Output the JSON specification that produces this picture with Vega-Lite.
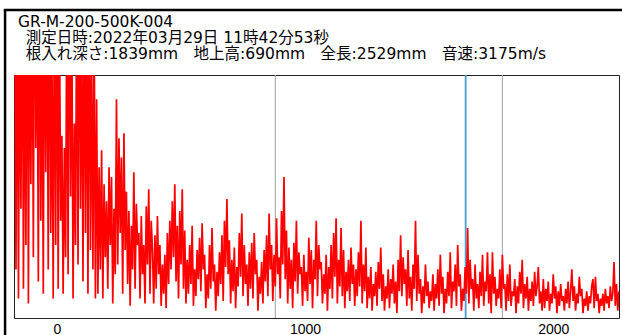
{
  "$schema": "https://vega.github.io/schema/vega-lite/v6.json",
  "width": 605,
  "height": 243,
  "autosize": "none",
  "padding": {"left": 14, "top": 75, "right": 3, "bottom": 17},
  "background": "white",
  "config": {"view": {"stroke": "#222222", "strokeWidth": 1}},
  "title": {
    "text": ["GR-M-200-500K-004", "\u200b\u2002測定日時:2022年03月29日 11時42分53秒", "\u200b\u2002根入れ深さ:1839mm\u2002\u2002地上高:690mm\u2002\u2002全長:2529mm\u2002\u2002音速:3175m/s"],
    "anchor": "start",
    "frame": "group",
    "offset": -54,
    "dx": 4,
    "fontSize": 15.5,
    "lineHeight": 16,
    "font": "DejaVu Sans, Noto Sans CJK JP",
    "fontWeight": "normal",
    "color": "#000000"
  },
  "layer": [
    {
      "data": {"values": [{"pos": 880}, {"pos": 1795}]},
      "mark": {"type": "rule", "color": "#a0a0a0", "strokeWidth": 1},
      "encoding": {
        "x": {"field": "pos", "type": "quantitative", "scale": {"domain": [-173, 2265], "nice": false, "zero": false}}
      }
    },
    {
      "data": {"values": [{"pos": 1647}]},
      "mark": {"type": "rule", "color": "#4a9fd0", "strokeWidth": 1.8},
      "encoding": {
        "x": {"field": "pos", "type": "quantitative"}
      }
    },
    {
      "data": {"values": [
{"x":-170,"y":140},{"x":-165,"y":20},{"x":-160,"y":150},{"x":-155,"y":8},{"x":-150,"y":130},{"x":-145,"y":45},{"x":-140,"y":160},{"x":-135,"y":12},{"x":-130,"y":120},{"x":-125,"y":30},{"x":-120,"y":170},{"x":-115,"y":6},{"x":-110,"y":135},{"x":-105,"y":55},{"x":-100,"y":150},{"x":-95,"y":25},{"x":-90,"y":180},{"x":-85,"y":70},{"x":-80,"y":140},{"x":-75,"y":15},{"x":-70,"y":165},{"x":-65,"y":40},{"x":-60,"y":125},{"x":-55,"y":10},{"x":-50,"y":155},{"x":-45,"y":60},{"x":-40,"y":145},{"x":-35,"y":20},{"x":-30,"y":170},{"x":-25,"y":35},{"x":-20,"y":110},{"x":-15,"y":8},{"x":-10,"y":150},{"x":-5,"y":30},
{"x":0,"y":160},{"x":5,"y":12},{"x":10,"y":130},{"x":15,"y":40},{"x":20,"y":75},{"x":25,"y":10},{"x":30,"y":70},{"x":35,"y":25},{"x":40,"y":140},{"x":45,"y":18},{"x":50,"y":175},{"x":55,"y":50},{"x":60,"y":125},{"x":65,"y":8},{"x":70,"y":80},{"x":75,"y":30},{"x":80,"y":150},{"x":85,"y":22},{"x":90,"y":165},{"x":95,"y":45},{"x":100,"y":120},{"x":105,"y":15},{"x":110,"y":145},{"x":115,"y":35},{"x":120,"y":130},{"x":125,"y":10},{"x":130,"y":155},{"x":135,"y":28},{"x":140,"y":110},{"x":145,"y":20},{"x":150,"y":125},{"x":155,"y":8},{"x":160,"y":90},
{"x":165,"y":10},{"x":170,"y":62},{"x":175,"y":20},{"x":180,"y":69},{"x":185,"y":8},{"x":190,"y":55},{"x":195,"y":25},{"x":200,"y":48},{"x":205,"y":12},{"x":210,"y":62},{"x":215,"y":30},{"x":220,"y":58},{"x":225,"y":6},{"x":230,"y":45},{"x":235,"y":18},{"x":240,"y":90},{"x":245,"y":22},{"x":250,"y":74},{"x":255,"y":35},{"x":260,"y":66},{"x":265,"y":10},{"x":270,"y":76},{"x":275,"y":28},{"x":280,"y":52},{"x":285,"y":14},{"x":290,"y":44},{"x":295,"y":5},{"x":300,"y":38},{"x":305,"y":20},{"x":310,"y":60},{"x":315,"y":12},{"x":320,"y":47},{"x":325,"y":30},{"x":330,"y":35},{"x":335,"y":8},{"x":340,"y":42},{"x":345,"y":18},{"x":350,"y":30},{"x":355,"y":6},{"x":360,"y":46},{"x":365,"y":22},{"x":370,"y":53},{"x":375,"y":10},{"x":380,"y":40},
{"x":385,"y":28},{"x":390,"y":6},{"x":395,"y":34},{"x":400,"y":12},{"x":405,"y":42},{"x":410,"y":18},{"x":415,"y":30},{"x":420,"y":5},{"x":425,"y":22},{"x":430,"y":10},{"x":435,"y":26},{"x":440,"y":4},{"x":445,"y":35},{"x":450,"y":14},{"x":455,"y":40},{"x":460,"y":20},{"x":465,"y":48},{"x":470,"y":25},{"x":475,"y":55},{"x":480,"y":15},{"x":485,"y":38},{"x":490,"y":8},{"x":495,"y":44},{"x":500,"y":22},{"x":505,"y":53},{"x":510,"y":12},{"x":515,"y":36},{"x":520,"y":6},{"x":525,"y":24},{"x":530,"y":10},{"x":535,"y":30},{"x":540,"y":14},{"x":545,"y":38},{"x":550,"y":5},{"x":555,"y":20},{"x":560,"y":9},{"x":565,"y":28},{"x":570,"y":16},{"x":575,"y":33},{"x":580,"y":11},{"x":585,"y":39},{"x":590,"y":20},{"x":595,"y":26},{"x":600,"y":4},{"x":605,"y":18},{"x":610,"y":8},{"x":615,"y":30},{"x":620,"y":12},{"x":625,"y":37},{"x":630,"y":15},{"x":635,"y":22},{"x":640,"y":3},{"x":645,"y":19},{"x":650,"y":9},{"x":655,"y":27},{"x":660,"y":14},{"x":665,"y":34},{"x":670,"y":7},{"x":675,"y":40},{"x":680,"y":21},{"x":685,"y":49},{"x":690,"y":18},{"x":695,"y":32},{"x":700,"y":6},{"x":705,"y":24},{"x":710,"y":11},{"x":715,"y":29},{"x":720,"y":4},{"x":725,"y":21},{"x":730,"y":13},{"x":735,"y":35},{"x":740,"y":17},{"x":745,"y":43},{"x":750,"y":9},{"x":755,"y":30},{"x":760,"y":14},{"x":765,"y":22},{"x":770,"y":5},{"x":775,"y":27},{"x":780,"y":12},{"x":785,"y":31},{"x":790,"y":8},{"x":795,"y":35},{"x":800,"y":18},{"x":805,"y":24},{"x":810,"y":3},{"x":815,"y":17},{"x":820,"y":10},{"x":825,"y":23},{"x":830,"y":6},{"x":835,"y":28},{"x":840,"y":15},{"x":845,"y":34},{"x":850,"y":9},{"x":855,"y":43},{"x":860,"y":20},{"x":865,"y":30},{"x":870,"y":7},{"x":875,"y":26},{"x":880,"y":13},{"x":885,"y":41},{"x":890,"y":18},{"x":895,"y":25},{"x":900,"y":8},{"x":905,"y":44},{"x":910,"y":22},{"x":915,"y":58},{"x":920,"y":16},{"x":925,"y":36},{"x":930,"y":6},{"x":935,"y":29},{"x":940,"y":12},{"x":945,"y":24},{"x":950,"y":4},{"x":955,"y":31},{"x":960,"y":15},{"x":965,"y":40},{"x":970,"y":10},{"x":975,"y":27},{"x":980,"y":18},{"x":985,"y":21},{"x":990,"y":5},{"x":995,"y":26},
{"x":1000,"y":11},{"x":1005,"y":19},{"x":1010,"y":7},{"x":1015,"y":33},{"x":1020,"y":14},{"x":1025,"y":28},{"x":1030,"y":4},{"x":1035,"y":24},{"x":1040,"y":16},{"x":1045,"y":40},{"x":1050,"y":9},{"x":1055,"y":30},{"x":1060,"y":20},{"x":1065,"y":23},{"x":1070,"y":6},{"x":1075,"y":18},{"x":1080,"y":10},{"x":1085,"y":26},{"x":1090,"y":3},{"x":1095,"y":21},{"x":1100,"y":12},{"x":1105,"y":30},{"x":1110,"y":8},{"x":1115,"y":35},{"x":1120,"y":17},{"x":1125,"y":41},{"x":1130,"y":6},{"x":1135,"y":24},{"x":1140,"y":13},{"x":1145,"y":37},{"x":1150,"y":9},{"x":1155,"y":28},{"x":1160,"y":4},{"x":1165,"y":19},{"x":1170,"y":11},{"x":1175,"y":24},{"x":1180,"y":7},{"x":1185,"y":29},{"x":1190,"y":14},{"x":1195,"y":22},{"x":1200,"y":5},
{"x":1205,"y":20},{"x":1210,"y":9},{"x":1215,"y":27},{"x":1220,"y":13},{"x":1225,"y":40},{"x":1230,"y":6},{"x":1235,"y":22},{"x":1240,"y":11},{"x":1245,"y":29},{"x":1250,"y":4},{"x":1255,"y":17},{"x":1260,"y":8},{"x":1265,"y":21},{"x":1270,"y":3},{"x":1275,"y":14},{"x":1280,"y":9},{"x":1285,"y":19},{"x":1290,"y":5},{"x":1295,"y":23},{"x":1300,"y":12},{"x":1305,"y":29},{"x":1310,"y":7},{"x":1315,"y":18},{"x":1320,"y":3},{"x":1325,"y":13},{"x":1330,"y":8},{"x":1335,"y":20},{"x":1340,"y":4},{"x":1345,"y":16},{"x":1350,"y":10},{"x":1355,"y":22},{"x":1360,"y":6},{"x":1365,"y":15},{"x":1370,"y":2},{"x":1375,"y":24},{"x":1380,"y":11},{"x":1385,"y":34},{"x":1390,"y":9},{"x":1395,"y":25},{"x":1400,"y":14},{"x":1405,"y":20},{"x":1410,"y":5},{"x":1415,"y":28},{"x":1420,"y":8},{"x":1425,"y":17},{"x":1430,"y":3},{"x":1435,"y":22},{"x":1440,"y":12},{"x":1445,"y":40},{"x":1450,"y":7},{"x":1455,"y":26},{"x":1460,"y":10},{"x":1465,"y":16},{"x":1470,"y":2},{"x":1475,"y":13},{"x":1480,"y":6},{"x":1485,"y":22},{"x":1490,"y":9},{"x":1495,"y":15},{"x":1500,"y":4},{"x":1505,"y":11},{"x":1510,"y":7},{"x":1515,"y":18},{"x":1520,"y":3},{"x":1525,"y":14},{"x":1530,"y":8},{"x":1535,"y":20},{"x":1540,"y":5},{"x":1545,"y":26},{"x":1550,"y":10},{"x":1555,"y":17},{"x":1560,"y":2},{"x":1565,"y":12},{"x":1570,"y":6},{"x":1575,"y":19},{"x":1580,"y":9},{"x":1585,"y":27},{"x":1590,"y":4},{"x":1595,"y":15},{"x":1600,"y":11},{"x":1605,"y":22},{"x":1610,"y":5},{"x":1615,"y":30},{"x":1620,"y":13},{"x":1625,"y":18},{"x":1630,"y":3},{"x":1635,"y":12},{"x":1640,"y":7},{"x":1645,"y":21},{"x":1650,"y":10},{"x":1655,"y":37},{"x":1660,"y":6},{"x":1665,"y":24},{"x":1670,"y":12},{"x":1675,"y":16},{"x":1680,"y":3},{"x":1685,"y":22},{"x":1690,"y":8},{"x":1695,"y":14},{"x":1700,"y":4},{"x":1705,"y":19},{"x":1710,"y":9},{"x":1715,"y":26},{"x":1720,"y":5},{"x":1725,"y":15},{"x":1730,"y":11},{"x":1735,"y":27},{"x":1740,"y":6},{"x":1745,"y":18},{"x":1750,"y":2},{"x":1755,"y":27},{"x":1760,"y":10},{"x":1765,"y":17},{"x":1770,"y":5},{"x":1775,"y":12},{"x":1780,"y":8},{"x":1785,"y":20},{"x":1790,"y":4},{"x":1795,"y":26},{"x":1800,"y":12},{"x":1805,"y":14},{"x":1810,"y":3},{"x":1815,"y":18},{"x":1820,"y":7},{"x":1825,"y":22},{"x":1830,"y":5},{"x":1835,"y":11},{"x":1840,"y":9},{"x":1845,"y":16},{"x":1850,"y":2},{"x":1855,"y":13},{"x":1860,"y":6},{"x":1865,"y":19},{"x":1870,"y":10},{"x":1875,"y":24},{"x":1880,"y":4},{"x":1885,"y":14},{"x":1890,"y":8},{"x":1895,"y":17},{"x":1900,"y":3},{"x":1905,"y":12},{"x":1910,"y":7},{"x":1915,"y":15},{"x":1920,"y":5},{"x":1925,"y":19},{"x":1930,"y":9},{"x":1935,"y":13},{"x":1940,"y":21},{"x":1945,"y":6},{"x":1950,"y":11},{"x":1955,"y":3},{"x":1960,"y":16},
{"x":1965,"y":4},{"x":1970,"y":12},{"x":1975,"y":7},{"x":1980,"y":15},{"x":1985,"y":3},{"x":1990,"y":10},{"x":1995,"y":6},{"x":2000,"y":18},{"x":2005,"y":8},{"x":2010,"y":13},{"x":2015,"y":2},{"x":2020,"y":11},{"x":2025,"y":5},{"x":2030,"y":14},{"x":2035,"y":7},{"x":2040,"y":9},{"x":2045,"y":3},{"x":2050,"y":12},{"x":2055,"y":6},{"x":2060,"y":15},{"x":2065,"y":4},{"x":2070,"y":11},{"x":2075,"y":20},{"x":2080,"y":7},{"x":2085,"y":13},{"x":2090,"y":3},{"x":2095,"y":10},{"x":2100,"y":6},{"x":2105,"y":17},{"x":2110,"y":9},{"x":2115,"y":12},{"x":2120,"y":2},{"x":2125,"y":8},{"x":2130,"y":5},{"x":2135,"y":11},{"x":2140,"y":3},{"x":2145,"y":9},{"x":2150,"y":6},{"x":2155,"y":13},{"x":2160,"y":16},{"x":2165,"y":4},{"x":2170,"y":17},{"x":2175,"y":7},{"x":2180,"y":10},{"x":2185,"y":2},{"x":2190,"y":8},{"x":2195,"y":5},{"x":2200,"y":10},{"x":2205,"y":3},{"x":2210,"y":12},{"x":2215,"y":6},{"x":2220,"y":9},{"x":2225,"y":4},{"x":2230,"y":13},{"x":2235,"y":7},{"x":2240,"y":10},{"x":2245,"y":23},{"x":2250,"y":5},{"x":2255,"y":14},{"x":2260,"y":3},{"x":2265,"y":11}
      ]},
      "mark": {"type": "line", "color": "#ff0000", "strokeWidth": 1.7, "clip": true},
      "encoding": {
        "x": {
          "field": "x",
          "type": "quantitative",
          "axis": {
            "values": [0, 1000, 2000],
            "format": "d",
            "title": null,
            "domain": false,
            "ticks": false,
            "tickSize": 0,
            "grid": false,
            "labelPadding": 4,
            "labelFont": "Liberation Sans",
            "labelFontSize": 14,
            "labelColor": "#000000"
          }
        },
        "y": {"field": "y", "type": "quantitative", "scale": {"domain": [0, 100], "nice": false, "zero": false}, "axis": null}
      }
    },
    {
      "data": {"values": [{}]},
      "mark": {"type": "rule", "color": "#000000", "strokeWidth": 2.5, "clip": false},
      "encoding": {"x": {"datum": -209}, "y": {"datum": 126.7}, "y2": {"datum": -10}}
    },
    {
      "data": {"values": [{}]},
      "mark": {"type": "rule", "color": "#000000", "strokeWidth": 2.5, "clip": false},
      "encoding": {"x": {"datum": -214}, "x2": {"datum": 2300}, "y": {"datum": 126.7}}
    }
  ]
}
